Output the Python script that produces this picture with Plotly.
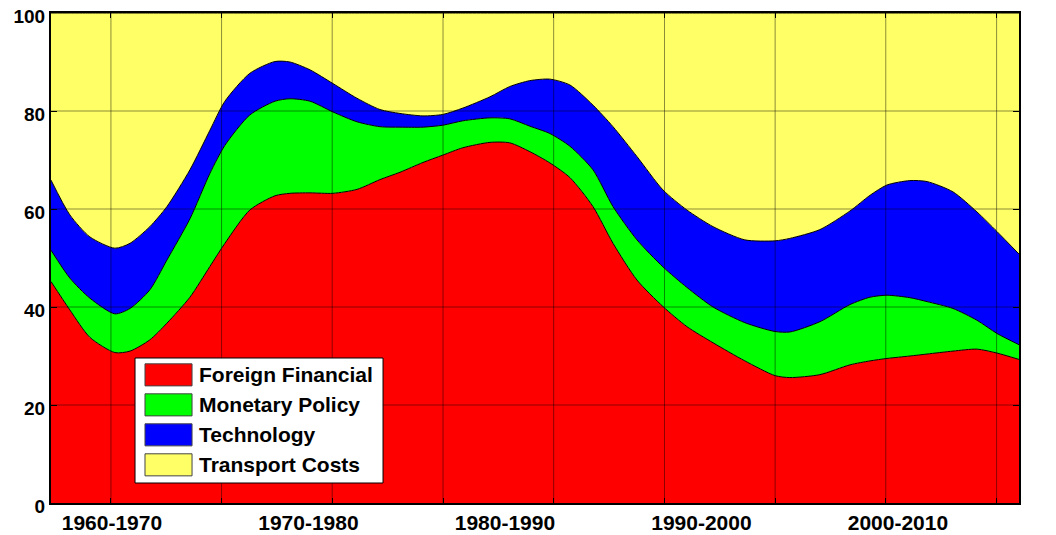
import plotly.graph_objects as go

# ---- data ----
years = [1956.90, 1957.86, 1958.88, 1960.15, 1960.92, 1961.93, 1962.80, 1963.97, 1964.99,
         1965.75, 1967.02, 1968.30, 1969.06, 1970.08, 1971.25, 1972.47, 1973.64, 1974.66,
         1975.83, 1976.84, 1977.86, 1979.24, 1980.25, 1981.27, 1982.29, 1983.31, 1984.48,
         1985.50, 1986.72, 1988.04, 1989.26, 1990.59, 1992.21, 1993.74, 1994.50, 1996.03,
         1997.56, 1998.58, 1999.44, 2000.61, 2001.48, 2002.80, 2004.02, 2005.04, 2006.16]

foreign_financial = [45.2, 39.4, 33.8, 30.7, 31.0, 33.3, 36.7, 42.0, 48.3,
                     53.0, 59.8, 62.7, 63.2, 63.3, 63.2, 64.0, 66.0, 67.5,
                     69.5, 71.0, 72.5, 73.6, 73.5, 71.7, 69.4, 66.4, 60.5,
                     53.0, 45.5, 40.1, 36.0, 32.7, 29.0, 26.0, 25.6, 26.2,
                     28.2, 29.0, 29.5, 30.0, 30.4, 31.0, 31.4, 30.6, 29.3]

monetary_policy = [6.4, 6.5, 8.0, 7.9, 8.7, 10.2, 12.9, 16.0, 19.0,
                   20.0, 19.4, 19.3, 19.3, 18.7, 16.6, 13.8, 10.8, 9.2,
                   7.2, 6.1, 5.5, 5.0, 4.9, 5.2, 6.0, 6.4, 7.5,
                   7.5, 8.2, 8.1, 8.0, 7.3, 7.8, 9.0, 9.3, 10.8,
                   12.3, 13.0, 12.9, 11.9, 10.7, 8.7, 5.9, 4.0, 3.0]

technology = [14.3, 12.9, 12.5, 13.4, 13.3, 12.9, 10.9, 10.0, 8.8,
              9.0, 8.5, 8.1, 7.5, 6.4, 5.8, 4.8, 3.5, 2.8,
              2.3, 2.2, 2.6, 4.3, 6.6, 9.3, 11.1, 12.5, 13.2,
              16.3, 17.0, 15.7, 15.8, 16.4, 16.9, 18.5, 19.1, 18.8,
              19.1, 20.8, 22.5, 23.9, 24.5, 23.8, 22.1, 20.8, 18.5]

transport_costs = [34.1, 41.2, 45.7, 48.0, 47.0, 43.6, 39.5, 32.0, 23.9,
                   18.0, 12.3, 9.9, 10.0, 11.6, 14.4, 17.4, 19.7, 20.5,
                   21.0, 20.7, 19.4, 17.1, 15.0, 13.8, 13.5, 14.7, 18.8,
                   23.2, 29.3, 36.1, 40.2, 43.6, 46.3, 46.5, 46.0, 44.2,
                   40.4, 37.2, 35.1, 34.2, 34.4, 36.5, 40.6, 44.6, 49.2]

series_names = ["Foreign Financial", "Monetary Policy", "Technology", "Transport Costs"]
series_values = [foreign_financial, monetary_policy, technology, transport_costs]
series_colors = ["#FF0000", "#00FF00", "#0000FF", "#FFFF66"]

decade_ticks = [1960, 1970, 1980, 1990, 2000]
decade_labels = ["1960-1970", "1970-1980", "1980-1990", "1990-2000", "2000-2010"]
y_ticks = [0, 20, 40, 60, 80, 100]
grid_x = [1959.95, 1965.58, 1971.21, 1976.85, 1982.48, 1988.12, 1993.75, 1999.38, 2005.02]
x_range = [1956.90, 2006.16]

FAMILY = "Liberation Sans, Arial, sans-serif"
FONT = dict(family=FAMILY, size=21, color="black", weight="bold")
YFONT = dict(family=FAMILY, size=19, color="black", weight="bold")
GRID_COLOR = "rgba(0,0,0,0.45)"

fig = go.Figure()
for name, vals, col in zip(series_names, series_values, series_colors):
    fig.add_trace(go.Scatter(
        x=years, y=vals, name=name, stackgroup="one", mode="lines",
        line=dict(color="black", width=1, shape="spline", smoothing=0.7),
        fillcolor=col, showlegend=False, hoverinfo="x+y+name",
    ))

# gridlines drawn above the filled areas (as in the reference)
for gx in grid_x:
    fig.add_shape(type="line", xref="x", yref="paper", x0=gx, x1=gx, y0=0, y1=1,
                  line=dict(color=GRID_COLOR, width=1), layer="above")
for gy in y_ticks[1:-1]:
    fig.add_shape(type="line", xref="paper", yref="y", x0=0, x1=1, y0=gy, y1=gy,
                  line=dict(color=GRID_COLOR, width=1), layer="above")

# legend box (drawn manually to reproduce the large swatches)
leg_x0, leg_x1 = 0.0868, 0.343
leg_y0, leg_y1 = 0.0408, 0.2959
sw_x0, sw_x1 = 0.0971, 0.1457
row_top = 0.284
row_h = 0.0612
sw_h = 0.045
fig.add_shape(type="rect", xref="paper", yref="paper", x0=leg_x0, x1=leg_x1, y0=leg_y0, y1=leg_y1,
              fillcolor="white", line=dict(color="black", width=1), layer="above")
for i, (name, col) in enumerate(zip(series_names, series_colors)):
    top = row_top - i * row_h
    fig.add_shape(type="rect", xref="paper", yref="paper", x0=sw_x0, x1=sw_x1,
                  y0=top - sw_h, y1=top, fillcolor=col,
                  line=dict(color="#444444", width=1), layer="above")
    fig.add_annotation(xref="paper", yref="paper", x=sw_x1 + 0.005, y=top - sw_h / 2,
                       text=name, showarrow=False, xanchor="left", yanchor="middle",
                       font=FONT)

fig.update_layout(
    width=1040, height=527,
    margin=dict(l=43, r=29, t=5, b=32, autoexpand=False),
    paper_bgcolor="white", plot_bgcolor="white",
    showlegend=False,
    xaxis=dict(
        range=x_range, tickmode="array", tickvals=decade_ticks, ticktext=decade_labels,
        ticks="", showgrid=False, zeroline=False, automargin=False,
        ticklabeloverflow="allow",
        showline=True, linecolor="black", linewidth=2, mirror="ticks",
        tickfont=FONT,
        minor=dict(tickmode="array", tickvals=grid_x, ticks="inside", ticklen=5,
                   tickcolor="black", tickwidth=1, showgrid=False),
    ),
    yaxis=dict(
        range=[0, 100], tickmode="array", tickvals=y_ticks,
        ticks="inside", ticklen=6, tickcolor="black", tickwidth=1,
        showgrid=False, zeroline=False, automargin=False,
        ticklabeloverflow="allow", ticklabelshift=3,
        showline=True, linecolor="black", linewidth=2, mirror="ticks",
        tickfont=YFONT,
    ),
)

fig.write_html("out.html")
